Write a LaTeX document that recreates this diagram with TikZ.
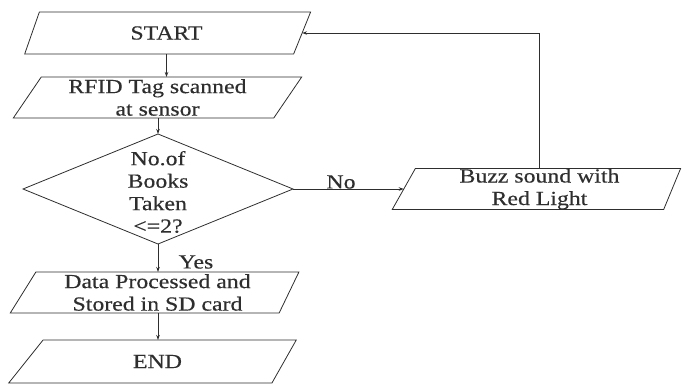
\documentclass[tikz,border=0pt]{standalone}
\usepackage{fontspec}
\setmainfont{Liberation Serif}[FakeStretch=1.19,FakeBold=0.4]
\usetikzlibrary{shapes.geometric,arrows.meta}
\definecolor{ink}{HTML}{2E2E2E}
\begin{document}
\begin{tikzpicture}[x=1pt,y=-1pt,
  every node/.style={font=\fontsize{20}{22.5}\selectfont, text=ink},
  iobox/.style={trapezium, trapezium stretches=true, draw=ink, line width=0.8pt,
    inner sep=0pt, outer sep=0pt, align=center},
  decbox/.style={diamond, draw=ink, line width=0.8pt, inner sep=0pt, outer sep=0pt,
    minimum width=270pt, minimum height=110pt},
  flow/.style={draw=ink, line width=0.8pt, -{Stealth[length=5pt,width=3.5pt]}},
  lbl/.style={inner sep=0pt}
]
\useasboundingbox (0,0) rectangle (692,383);
\node[iobox, minimum width=287pt, minimum height=42pt,
  trapezium left angle=72.8, trapezium right angle=109.7] (start) at (166.5,33) {START};
\node[iobox, minimum width=289pt, minimum height=41pt,
  trapezium left angle=59.65, trapezium right angle=120.35] (rfid) at (157.5,97.5) {RFID Tag scanned\\at sensor};
\node[decbox] (dec) at (158,189) {};
\node[lbl, align=center] (dectext) at (158,192) {No.of\\Books\\Taken\\<=2?};
\node[iobox, minimum width=289pt, minimum height=41pt,
  trapezium left angle=61.8, trapezium right angle=112.5] (data) at (157.5,292.5) {Data Processed and\\Stored in SD card};
\node[iobox, minimum width=289pt, minimum height=43pt,
  trapezium left angle=60.8, trapezium right angle=111.6] (end) at (157.5,361.5) {END};
\node[iobox, minimum width=289pt, minimum height=41pt,
  trapezium left angle=69.9, trapezium right angle=105] (buzz) at (539.5,189) {Buzz sound with\\Red Light};
\node[lbl] (yes) at (196,262) {Yes};
\node[lbl] (no) at (341,182) {No};
\draw[flow] (start.south) -- (start.south |- rfid.north);
\draw[flow] (dec.north |- rfid.south) -- (dec.north);
\draw[flow] (dec.south) -- (dec.south |- data.north);
\draw[flow] (data.south -| dec.south) -- (end.north -| dec.south);
\draw[flow] (dec.east) -- (dec.east -| buzz.west);
\draw[flow] (buzz.north) |- (start.east);
\end{tikzpicture}
\end{document}
